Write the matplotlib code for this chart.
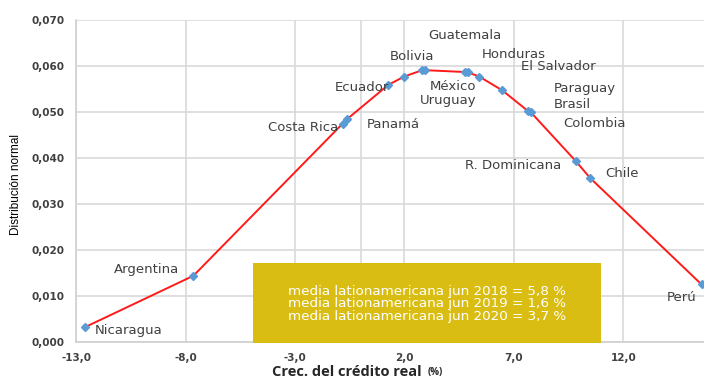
import matplotlib.pyplot as plt
from matplotlib.patches import Rectangle

# crecimiento real del crédito (%) y densidad normal por país
paises = ['Nicaragua', 'Argentina', 'Costa Rica', 'Panamá', 'Ecuador', 'Bolivia',
          'Guatemala', 'México', 'Uruguay', 'Honduras', 'El Salvador', 'Paraguay',
          'Brasil', 'Colombia', 'R. Dominicana', 'Chile', 'Perú']
credito = [-12.6, -7.64, -0.82, -0.61, 1.26, 1.98,
           2.81, 2.95, 4.75, 4.91, 5.42, 6.47,
           7.62, 7.76, 9.83, 10.47, 15.57]
densidad = [0.0032, 0.0144, 0.0475, 0.0485, 0.0559, 0.0577,
            0.0591, 0.0591, 0.0587, 0.0586, 0.0577, 0.0547,
            0.0503, 0.0500, 0.0393, 0.0357, 0.0125]

# desplazamiento de cada etiqueta (pixeles)
offsets = [(44, -3), (-47, 6), (-40, -4), (46, -6), (-26, -3), (8, 20),
           (43, 35), (28, -16), (-16, -28), (46, 18), (79, 10), (82, 2),
           (45, 6), (64, -11), (-63, -4), (32, 4), (-20, -13)]

xticks = [-13, -8, -3, 2, 7, 12]
yticks = [0.0, 0.01, 0.02, 0.03, 0.04, 0.05, 0.06, 0.07]

medias = ['media lationamericana jun 2018 = 5,8 %',
          'media lationamericana jun 2019 = 1,6 %',
          'media lationamericana jun 2020 = 3,7 %']

fig = plt.figure(figsize=(7.04, 3.81), dpi=100)
ax = fig.add_axes([0.108, 0.1024, 0.892, 0.845])

grid = '#d9d9d9'
ax.plot(credito, densidad, color='#ff1a1a', lw=1.4, zorder=3)
ax.plot(credito, densidad, ls='none', marker='D', ms=4, color='#5b9bd5', zorder=4)

for nombre, x, y, (dx, dy) in zip(paises, credito, densidad, offsets):
    ax.annotate(nombre, (x, y), xytext=(dx, dy), textcoords='offset pixels',
                ha='center', va='center', fontsize=9.5, color='#404040',
                family='DejaVu Sans', zorder=5)

ax.set_xlim(-13, 15.68)
ax.set_ylim(0, 0.07)
ax.set_xticks(xticks)
ax.set_yticks(yticks)
ax.set_yticklabels([('%.3f' % v).replace('.', ',') for v in yticks])
ax.set_xticklabels([('%.1f' % v).replace('.', ',') for v in xticks])
for lab in ax.get_xticklabels() + ax.get_yticklabels():
    lab.set_fontweight('bold')
    lab.set_fontfamily('DejaVu Sans')
    lab.set_fontsize(7.5)
    lab.set_color('#404040')
ax.tick_params(length=0, pad=8)
ax.grid(True, color=grid, lw=1.2, zorder=0)
ax.axvline(0, color=grid, lw=1.2, zorder=0)
ax.set_axisbelow(True)
for s in ['top', 'right']:
    ax.spines[s].set_visible(False)
for s in ['left', 'bottom']:
    ax.spines[s].set_color('#d0d0d0')
    ax.spines[s].set_linewidth(1.2)

# recuadro con las medias regionales
caja = Rectangle((0.3594, 0.0997), 0.4943, 0.21, transform=fig.transFigure,
                 facecolor='#d9bd12', edgecolor='none', zorder=6)
fig.add_artist(caja)
fig.text(0.6065, 0.2021, '\n'.join(medias), ha='center', va='center',
         color='white', fontsize=9.7, family='DejaVu Sans',
         linespacing=0.98, zorder=7)

fig.text(272 / 704, 1 - 372 / 381, 'Crec. del crédito real', ha='left', va='center',
         fontsize=10.5, fontweight='bold', family='Open Sans', color='#262626')
fig.text(428 / 704, 1 - 373 / 381, '(%)', ha='left', va='center',
         fontsize=7, fontweight='bold', family='Open Sans', color='#262626')
fig.text(16 / 704, 1 - 185 / 381, 'Distribución normal', rotation=90,
         ha='center', va='center', fontsize=8.5,
         family='Liberation Sans', color='#000000')

fig.savefig('out.png', dpi=100)
